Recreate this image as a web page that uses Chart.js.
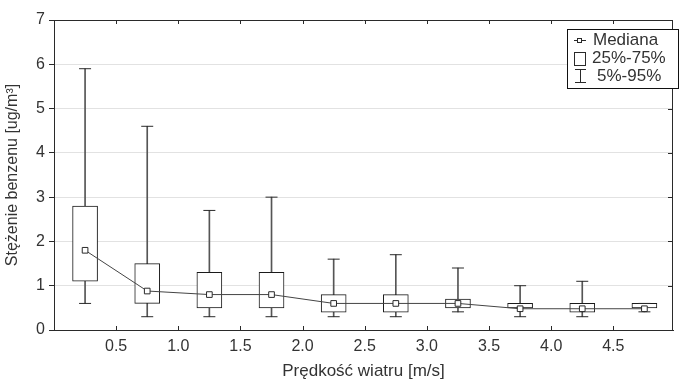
<!DOCTYPE html>
<html>
<head>
<meta charset="utf-8">
<script src="https://cdn.jsdelivr.net/npm/chart.js@4.4.1/dist/chart.umd.min.js"></script>
<style>
  html, body { margin: 0; padding: 0; background: #ffffff; }
  #wrap { width: 680px; height: 379px; }
</style>
</head>
<body>
<div id="wrap"><canvas id="c" width="680" height="379"></canvas></div>
<script>
// Wind speed class centres [m/s]
const windSpeed = [0.25, 0.75, 1.25, 1.75, 2.25, 2.75, 3.25, 3.75, 4.25, 4.75];
// Benzene concentration statistics per class [ug/m3]
const p05    = [0.6, 0.3, 0.3, 0.3, 0.3, 0.3, 0.41, 0.3, 0.3, 0.41];
const q25    = [1.1, 0.6, 0.5, 0.5, 0.4, 0.4, 0.5, 0.5, 0.4, 0.5];
const median = [1.8, 0.88, 0.8, 0.8, 0.6, 0.6, 0.6, 0.48, 0.48, 0.48];
const q75    = [2.8, 1.5, 1.3, 1.3, 0.8, 0.8, 0.7, 0.6, 0.6, 0.6];
const p95    = [5.9, 4.6, 2.7, 3.0, 1.6, 1.7, 1.4, 1.0, 1.1, 0.6];
// Axis ticks
const xTicks = [0.5, 1.0, 1.5, 2.0, 2.5, 3.0, 3.5, 4.0, 4.5];
const yTicks = [0, 1, 2, 3, 4, 5, 6, 7];
const legendLabels = ['Mediana', '25%-75%', '5%-95%'];

const INK = '#2a2a2a';
const FONT = 'Arial, "Liberation Sans", sans-serif';

const boxData = windSpeed.map((x, i) => ({ x, y: [q25[i], q75[i]] }));
const whiskerData = windSpeed.map((x, i) => ({ x, y: [p05[i], p95[i]] }));
const capData = windSpeed.flatMap((x, i) => [{ x, y: p05[i] }, { x, y: p95[i] }]);
const medianData = windSpeed.map((x, i) => ({ x, y: median[i] }));

// Frame, inward tick marks and the in-plot legend
const framePlugin = {
  id: 'frame',
  afterDatasetsDraw(chart) {
    const { ctx, chartArea: a, scales } = chart;
    ctx.save();
    ctx.strokeStyle = INK;
    ctx.lineWidth = 1;
    ctx.beginPath();
    ctx.moveTo(a.left, a.top + 0.5); ctx.lineTo(a.right, a.top + 0.5);
    ctx.moveTo(a.right - 0.5, a.top); ctx.lineTo(a.right - 0.5, a.bottom);
    xTicks.forEach(v => {
      const px = Math.round(scales.x.getPixelForValue(v)) + 0.5;
      ctx.moveTo(px, a.top); ctx.lineTo(px, a.top + 4);
      ctx.moveTo(px, a.bottom); ctx.lineTo(px, a.bottom - 4);
    });
    yTicks.forEach(v => {
      const py = Math.round(scales.y.getPixelForValue(v)) + 0.5;
      ctx.moveTo(a.right, py); ctx.lineTo(a.right - 5, py);
    });
    ctx.stroke();

    // legend
    const lx = 567, ly = 29, lw = 111, lh = 59;
    ctx.fillStyle = '#ffffff';
    ctx.fillRect(lx, ly, lw, lh);
    ctx.strokeStyle = '#111111';
    ctx.strokeRect(lx + 0.5, ly + 0.5, lw, lh);

    ctx.strokeStyle = INK;
    ctx.beginPath();
    // median marker
    ctx.moveTo(574, 40.5); ctx.lineTo(586, 40.5);
    ctx.stroke();
    ctx.fillStyle = '#ffffff';
    ctx.fillRect(577.5, 38.5, 4, 4);
    ctx.strokeRect(577.5, 38.5, 4, 4);
    // box marker
    ctx.strokeRect(574.5, 52.5, 11, 13);
    // whisker marker
    ctx.beginPath();
    ctx.moveTo(580.5, 69); ctx.lineTo(580.5, 83);
    ctx.moveTo(575, 69.5); ctx.lineTo(586, 69.5);
    ctx.moveTo(575, 82.5); ctx.lineTo(586, 82.5);
    ctx.stroke();

    ctx.fillStyle = '#333333';
    ctx.font = '17px ' + FONT;
    ctx.textBaseline = 'middle';
    ctx.textAlign = 'left';
    ctx.fillText(legendLabels[0], 593, 40);
    ctx.fillText(legendLabels[1], 592, 58);
    ctx.fillText(legendLabels[2], 597, 76);
    ctx.restore();
  }
};

new Chart(document.getElementById('c'), {
  type: 'bar',
  data: {
    datasets: [
      {
        type: 'line',
        data: medianData,
        borderColor: '#444444',
        borderWidth: 1,
        pointStyle: 'rect',
        pointRadius: 4,
        pointBackgroundColor: '#ffffff',
        pointBorderColor: INK,
        pointBorderWidth: 1,
        order: 0
      },
      {
        type: 'line',
        data: capData,
        showLine: false,
        pointStyle: 'line',
        pointRadius: 6,
        pointBorderColor: INK,
        pointBorderWidth: 1,
        order: 1
      },
      {
        data: boxData,
        backgroundColor: '#ffffff',
        borderColor: '#1a1a1a',
        borderWidth: 1,
        borderSkipped: false,
        barThickness: 25,
        grouped: false,
        order: 2
      },
      {
        data: whiskerData,
        backgroundColor: '#555555',
        borderWidth: 0,
        barThickness: 1,
        grouped: false,
        order: 3
      }
    ]
  },
  options: {
    responsive: false,
    animation: false,
    events: [],
    layout: { padding: { top: 20, right: 1, left: 0, bottom: 0 } },
    plugins: { legend: { display: false }, tooltip: { enabled: false } },
    scales: {
      x: {
        type: 'linear',
        offset: false,
        min: 0,
        max: 4.98,
        afterFit(s) { s.height = 49; },
        afterBuildTicks(s) { s.ticks = xTicks.map(v => ({ value: v })); },
        grid: { display: true, drawOnChartArea: false, drawTicks: false, offset: false },
        border: { display: true, color: INK, width: 1 },
        ticks: {
          color: '#333333',
          padding: 7,
          font: { family: FONT, size: 16 },
          callback: v => v.toFixed(1)
        },
        title: {
          display: true,
          text: 'Prędkość wiatru [m/s]',
          color: '#333333',
          font: { family: FONT, size: 17, lineHeight: 1 },
          padding: { top: 0, bottom: -1 }
        }
      },
      y: {
        min: 0,
        max: 7,
        afterFit(s) { s.width = 54; },
        afterBuildTicks(s) { s.ticks = yTicks.map(v => ({ value: v })); },
        grid: { color: '#e2e2e2', tickColor: INK, tickLength: 5, lineWidth: 1 },
        border: { display: true, color: INK, width: 1 },
        ticks: {
          color: '#333333',
          padding: 4,
          font: { family: FONT, size: 16 },
          callback: v => String(v)
        },
        title: {
          display: true,
          text: 'Stężenie benzenu [ug/m³]',
          color: '#333333',
          font: { family: FONT, size: 16, lineHeight: 1 },
          padding: { top: 5, bottom: 0 }
        }
      }
    }
  },
  plugins: [framePlugin]
});
</script>
</body>
</html>
